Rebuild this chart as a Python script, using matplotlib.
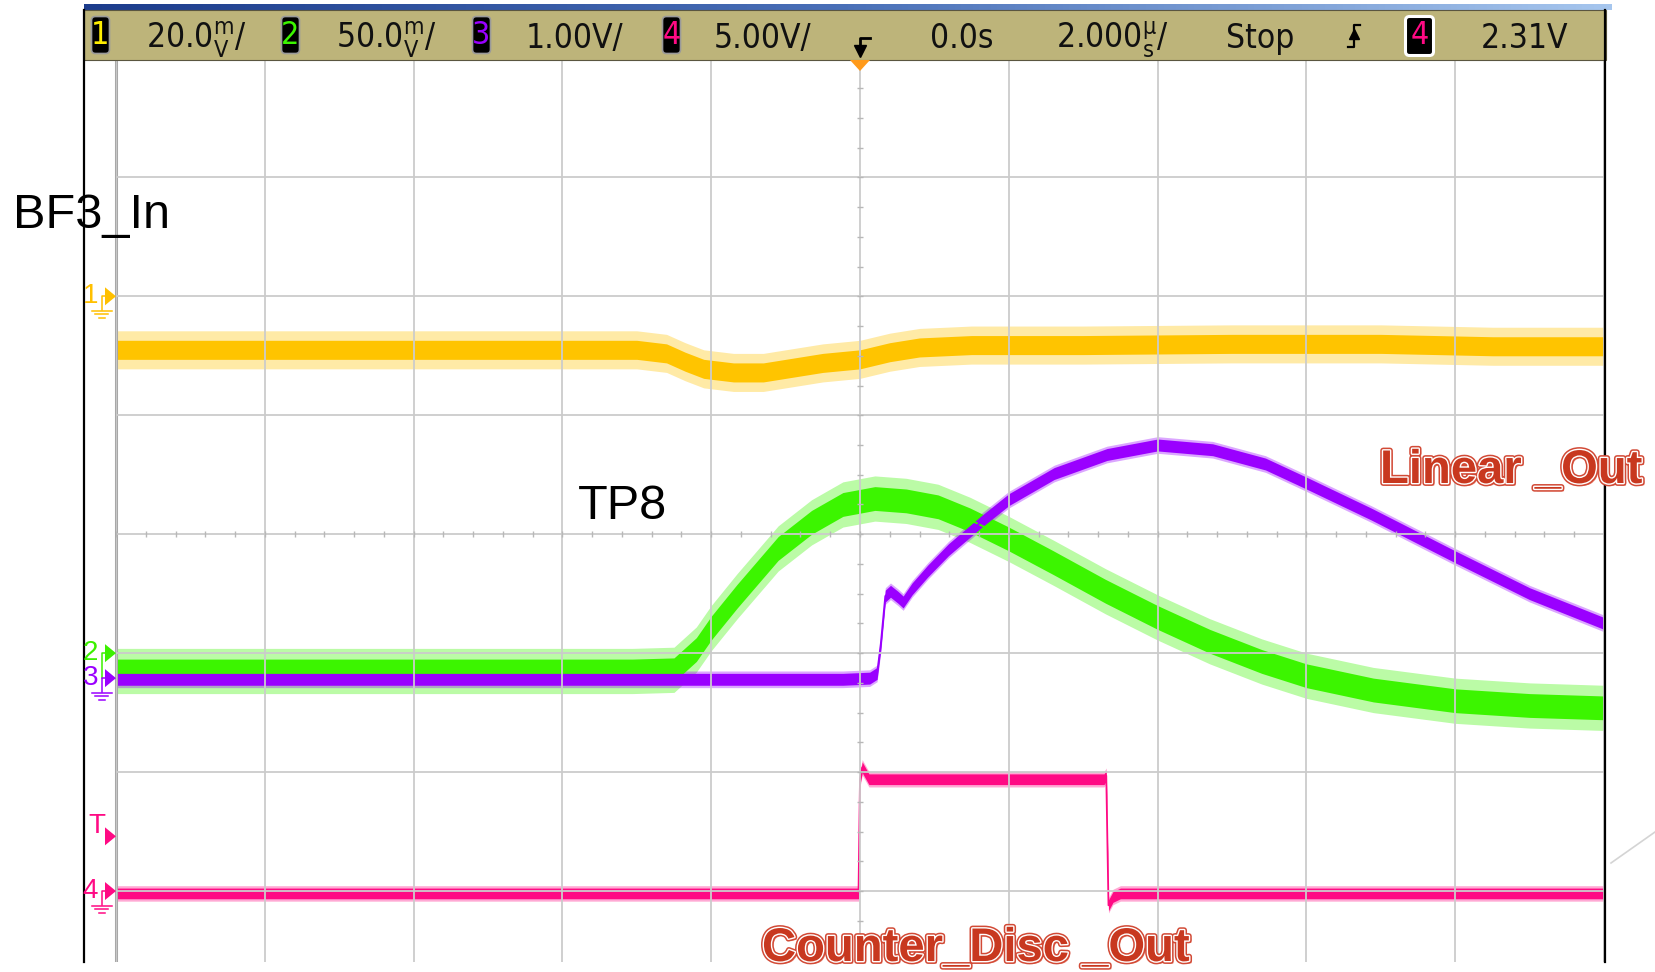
import numpy as np
import matplotlib
matplotlib.use("Agg")
import matplotlib.pyplot as plt
import matplotlib.patches as patches
import matplotlib.patheffects as pe
from matplotlib.colors import LinearSegmentedColormap

# ---- traces: time in us, level in divisions ----
ch1_t = [-10, -8, -6, -4, -3, -2.6, -2.35, -2.1, -1.7, -1.3, -0.9, -0.5, 0.0, 0.4, 0.8, 1.5, 3, 5, 7, 8.5, 10]
ch1_v = [1.55, 1.55, 1.55, 1.55, 1.55, 1.52, 1.45, 1.39, 1.36, 1.36, 1.40, 1.44, 1.47, 1.53, 1.57, 1.59, 1.59, 1.60, 1.60, 1.58, 1.58]

ch2_t = [-10, -6, -3.06, -2.5, -2.2, -2.0, -1.65, -1.1, -0.65, -0.23, 0.2, 0.62, 1.05, 1.48, 2.0, 2.6, 3.3, 4.0, 4.7, 5.4, 6.0, 6.9, 8.0, 9.0, 10]
ch2_v = [-1.15, -1.15, -1.15, -1.14, -0.97, -0.79, -0.52, -0.12, 0.10, 0.25, 0.30, 0.28, 0.23, 0.12, -0.04, -0.24, -0.48, -0.70, -0.90, -1.07, -1.19, -1.31, -1.40, -1.44, -1.46]

ch3_t = [-10, -0.23, 0.13, 0.23, 0.28, 0.34, 0.41, 0.51, 0.58, 0.70, 0.91, 1.19, 1.62, 2.0, 2.61, 3.32, 4.0, 4.74, 5.45, 6.0, 6.87, 8.0, 9.0, 10]
ch3_v = [-1.22, -1.22, -1.21, -1.17, -0.92, -0.52, -0.48, -0.53, -0.57, -0.46, -0.31, -0.13, 0.10, 0.29, 0.51, 0.67, 0.75, 0.71, 0.59, 0.43, 0.17, -0.19, -0.50, -0.75]

ch4_t = [-10, -0.02, 0.0, 0.03, 0.12, 3.28, 3.31, 3.34, 3.40, 3.50, 10]
ch4_v = [-3.02, -3.02, -2.06, -1.96, -2.06, -2.06, -2.03, -3.12, -3.05, -3.02, -3.02]

ch_names = ["1", "2", "3", "4"]
ch_scales = [r"20.0$^{\mathregular{m}}_{\mathregular{V}}$/", r"50.0$^{\mathregular{m}}_{\mathregular{V}}$/",
             "1.00V/", "5.00V/"]
ch_ground = [2.0, -1.0, -1.21, -3.0]
trig_level = -2.54
time_offset = "0.0s"
time_scale = r"2.000$^{\mathregular{µ}}_{\mathregular{s}}$/"
run_state = "Stop"
trig_source = "4"
trig_value = "2.31V"
labels = ["BF3_In", "TP8", "Linear _Out", "Counter_Disc _Out"]

colors = ["#ffc400", "#3cf500", "#9a00ff", "#ff0a84"]
core = [0.08, 0.10, 0.05, 0.045]
spike = [0.16, 0.19, 0.07, 0.065]

W, H = 1655, 972
plt.rcParams["font.family"] = ["Liberation Sans", "DejaVu Sans"]
HDR = dict(family=["DejaVu Sans"], fontstretch="condensed", fontsize=24, color="#111111", va="baseline")

fig = plt.figure(figsize=(W / 100, H / 100), dpi=100)
ax = fig.add_axes([116 / W, 1 - 1010 / H, 1488 / W, (1010 - 58.4) / H])
ax.set_xlim(-10, 10)
ax.set_ylim(-4, 4)
ax.set_xticks(np.arange(-10, 11, 2))
ax.set_yticks(np.arange(-4, 5, 1))
ax.grid(color="#cbcbcb", lw=1.3)
ax.set_axisbelow(False)
ax.tick_params(length=0, labelbottom=False, labelleft=False)
for s in ["top", "right", "bottom"]:
    ax.spines[s].set_visible(False)
ax.spines["left"].set_color("#a8a8a8")
ax.spines["left"].set_linewidth(2.2)

# small ticks on the centre cross
tx = np.arange(-10, 10.01, 0.4)
ty = np.arange(-4, 4.01, 0.25)
ax.plot(tx, np.zeros_like(tx), ls="none", marker="|", ms=5, mew=1.0, color="#b8b8b8", zorder=3)
ax.plot(np.zeros_like(ty), ty, ls="none", marker="_", ms=5, mew=1.0, color="#b8b8b8", zorder=3)

traces = [(ch1_t, ch1_v), (ch2_t, ch2_v), (ch3_t, ch3_v), (ch4_t, ch4_v)]
for i, (t, v) in enumerate(traces):
    t = np.array(t)
    v = np.array(v)
    ax.fill_between(t, v - spike[i], v + spike[i], color=colors[i], alpha=0.35, lw=0, zorder=1)
    ax.fill_between(t, v - core[i], v + core[i], color=colors[i], lw=0, zorder=1.2)
    ax.plot(t, v, color=colors[i], lw=1.3, zorder=1.3)

# ---- overlay in pixel coords (y down) ----
ov = fig.add_axes([0, 0, 1, 1])


def ypx(level):
    return H - ax.transData.transform((0, level))[1]


def xpx(t):
    return ax.transData.transform((t, 0))[0]


# white below the screenshot
ov.add_patch(patches.Rectangle((0, 962), W, 12, fc="white", ec="none"))
# frame lines
ov.plot([84, 84], [10, 962], color="black", lw=1.6)
ov.plot([1605, 1605], [10, 962], color="black", lw=1.6)
# slide decoration at bottom right
ov.plot([1611, 1655], [863, 832], color="#d4d4d4", lw=1.2)

# blue strip + header bar
blue = LinearSegmentedColormap.from_list("b", ["#1c3c8c", "#4a70b8", "#a6c6ee"])
ov.imshow(np.linspace(0, 1, 256)[None, :], cmap=blue, extent=(84, 1612, 10, 4), aspect="auto")
ov.add_patch(patches.Rectangle((84, 10), 1522, 50, fc="#bdb47a", ec="#5a5640", lw=0.8))

box_x = [91, 281, 472, 662]
scale_x = [146, 336, 526, 714]
for i in range(4):
    ov.add_patch(patches.FancyBboxPatch((box_x[i] + 2, 18), 15, 34, boxstyle="round,pad=1.5,rounding_size=4",
                                        fc="black", ec="#9a9a9a", lw=1.2))
    ov.text(box_x[i] + 9.5, 36, ch_names[i], color=colors[i] if i else "#ffee00", fontsize=23,
            family=["DejaVu Sans"], fontstretch="condensed", ha="center", va="center")
    ov.text(scale_x[i], 48, ch_scales[i], **HDR)

# trigger-position icon
xc = xpx(0)
ov.plot([xc, xc, xc + 10], [50, 38, 38], color="black", lw=2)
ov.plot([xc], [51], marker="v", ms=8, color="black")
ov.add_patch(patches.Polygon([(xc - 10, 60), (xc + 10, 60), (xc, 71)], fc="#ff9a1a", ec="none"))

ov.text(930, 48, time_offset, **HDR)
ov.text(1056, 48, time_scale, **HDR)
ov.text(1226, 48, run_state, **HDR)
# rising edge symbol
ov.plot([1348, 1354, 1354, 1360], [47, 47, 25, 25], color="black", lw=1.6)
ov.plot([1354], [34], marker="^", ms=7, color="black")
ov.add_patch(patches.FancyBboxPatch((1407, 18), 25, 36, boxstyle="round,pad=1.5,rounding_size=4",
                                    fc="black", ec="white", lw=2.2))
ov.text(1419.5, 36, trig_source, color=colors[3], fontsize=23, family=["DejaVu Sans"],
        fontstretch="condensed", ha="center", va="center")
ov.text(1481, 48, trig_value, **HDR)

# channel ground markers on the left
mark_col = ["#ffc000", "#3cf000", "#9a00ff", "#ff0a84"]
for i in range(4):
    y = ypx(ch_ground[i])
    c = mark_col[i]
    ov.add_patch(patches.Polygon([(105, y - 9), (105, y + 9), (116, y)], fc=c, ec="none"))
    ov.text(98, y, ch_names[i], color=c, fontsize=20, ha="right", va="center")
    if i == 1:
        ov.plot([106, 101.5, 101.5], [y, y, y + 25], color=c, lw=1.1)
    else:
        ov.plot([106, 101.5, 101.5], [y, y, y + 14], color=c, lw=1.1)
        ov.plot([91.5, 111.5], [y + 14.5, y + 14.5], color=c, lw=1.1)
        ov.plot([95, 108], [y + 18, y + 18], color=c, lw=1.1)
        ov.plot([98.5, 104.5], [y + 21.5, y + 21.5], color=c, lw=1.1)
yt = ypx(trig_level)
ov.add_patch(patches.Polygon([(105, yt - 9), (105, yt + 9), (116, yt)], fc=colors[3], ec="none"))
ov.text(105, yt - 10, "T", color=colors[3], fontsize=20, ha="right", va="center")

# signal labels
ov.text(13, 228, labels[0], fontsize=35, color="black", va="baseline")
ov.text(578, 519, labels[1], fontsize=35, color="black", va="baseline")
red_fx = [pe.SimplePatchShadow(offset=(1.8, -1.8), shadow_rgbFace="#e8806e", alpha=1.0),
          pe.Stroke(linewidth=4.2, foreground="#d24a36"),
          pe.Stroke(linewidth=2.0, foreground="white"),
          pe.Normal()]
ov.text(1380, 483, labels[2], fontsize=34, fontweight="bold", color="#c8381f", va="baseline", path_effects=red_fx)
ov.text(762, 961, labels[3], fontsize=34, fontweight="bold", color="#c8381f", va="baseline", path_effects=red_fx)

ov.set_xlim(0, W)
ov.set_ylim(H, 0)
ov.set_axis_off()

fig.savefig("out.png", dpi=100)
